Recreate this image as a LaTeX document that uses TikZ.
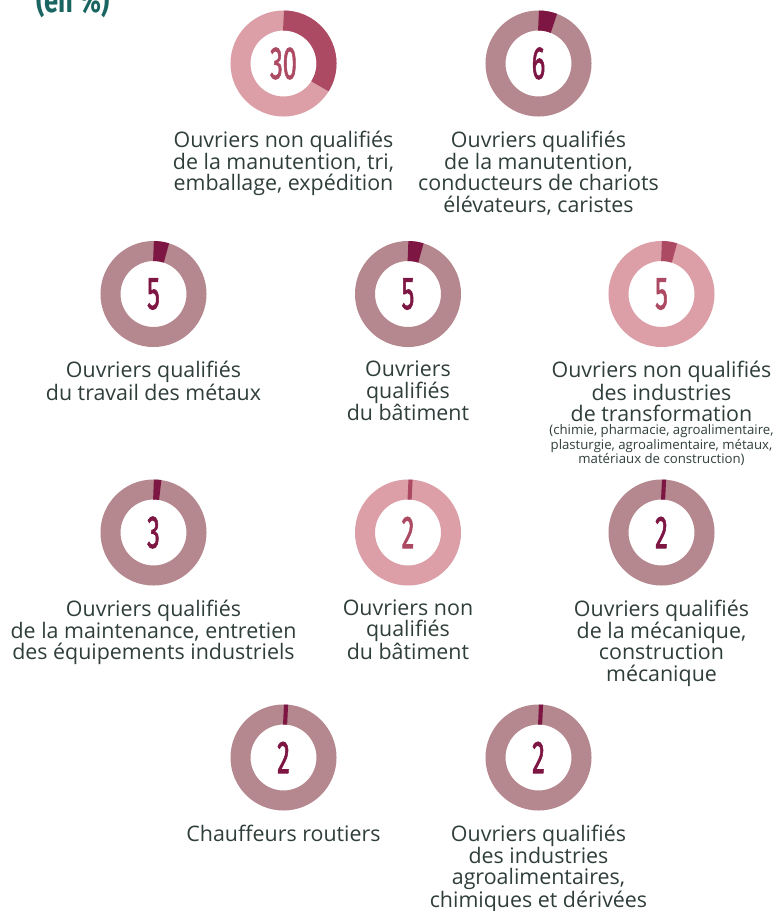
\documentclass[tikz,border=0pt]{standalone}
\usepackage{fontspec}
\usepackage{graphicx}
\setmainfont{Open Sans}
\newfontfamily\numfont[FakeBold=2]{Fira Sans}
\newfontfamily\ttlfont{Fira Sans}
\usetikzlibrary{positioning}

\definecolor{ringlt}{HTML}{DC9FA7}
\definecolor{seglt}{HTML}{AD4A63}
\definecolor{ringdk}{HTML}{B5888F}
\definecolor{segdk}{HTML}{7E1644}
\definecolor{lbltext}{HTML}{2F3E3B}
\definecolor{ttlgreen}{HTML}{1A6562}

\newcommand\pct[1]{\scalebox{0.55}[1]{\numfont\fontsize{46}{46}\selectfont #1}}

\tikzset{
  donut/.style={circle, minimum size=86pt, inner sep=0pt, line width=20pt},
  lbl/.style={align=center, inner sep=0pt, text=lbltext, font=\fontsize{21.4}{21.3}\selectfont},
  note/.style={align=center, inner sep=0pt, text=lbltext, font=\fontsize{13.2}{12.2}\selectfont},
  ttl/.style={inner sep=0pt, text=ttlgreen, font=\ttlfont\bfseries\fontsize{34}{34}\selectfont}
}

\begin{document}
\begin{tikzpicture}[x=1pt, y=-1pt]
\useasboundingbox (0,0) rectangle (775,911);
\clip (0,0) rectangle (775,911);

\node[ttl, anchor=base west] (ttl) at (36,12) {\scalebox{0.75}[1]{(en \%)}};

% donuts: number / centre / value / angle of the share / palette
\foreach \n/\x/\y/\v/\a/\pal in {1/283.5/63.5/30/122/lt, 2/538.5/63.5/6/21/dk,
    3/153.5/294/5/17.5/dk, 4/408/294/5/17.5/dk, 5/661.5/294/5/17.5/lt,
    6/153.5/532.5/3/9/dk, 7/408/532.5/2/5.5/lt, 8/661.5/532.5/2/5.5/dk,
    9/283.5/757.5/2/5.5/dk, 10/538.5/757.5/2/5.5/dk}{
  \node[donut, draw=ring\pal, text=seg\pal] (d\n) at (\x,\y) {\pct{\v}};
  \draw[seg\pal, line width=20pt] (d\n.center) ++(90:43pt)
    arc[start angle=90, delta angle=-\a, radius=43pt];
}

\node[lbl, below=14pt of d1] (l1) {Ouvriers non qualifiés\\de la manutention, tri,\\emballage, expédition};
\node[lbl, below=14pt of d2] (l2) {Ouvriers qualifiés\\de la manutention,\\conducteurs de chariots\\élévateurs, caristes};
\node[lbl, below=14pt of d3] (l3) {Ouvriers qualifiés\\du travail des métaux};
\node[lbl, below=14pt of d4] (l4) {Ouvriers\\qualifiés\\du bâtiment};
\node[lbl, below=14pt of d5] (l5) {Ouvriers non qualifiés\\des industries\\de transformation};
\node[note, below=3pt of l5] (n5) {(chimie, pharmacie, agroalimentaire,\\plasturgie, agroalimentaire, métaux,\\matériaux de construction)};
\node[lbl, below=14pt of d6] (l6) {Ouvriers qualifiés\\de la maintenance, entretien\\des équipements industriels};
\node[lbl, below=14pt of d7] (l7) {Ouvriers non\\qualifiés\\du bâtiment};
\node[lbl, below=14pt of d8] (l8) {Ouvriers qualifiés\\de la mécanique,\\construction\\mécanique};
\node[lbl, below=14pt of d9] (l9) {Chauffeurs routiers};
\node[lbl, below=14pt of d10] (l10) {Ouvriers qualifiés\\des industries\\agroalimentaires,\\chimiques et dérivées};
\end{tikzpicture}
\end{document}
